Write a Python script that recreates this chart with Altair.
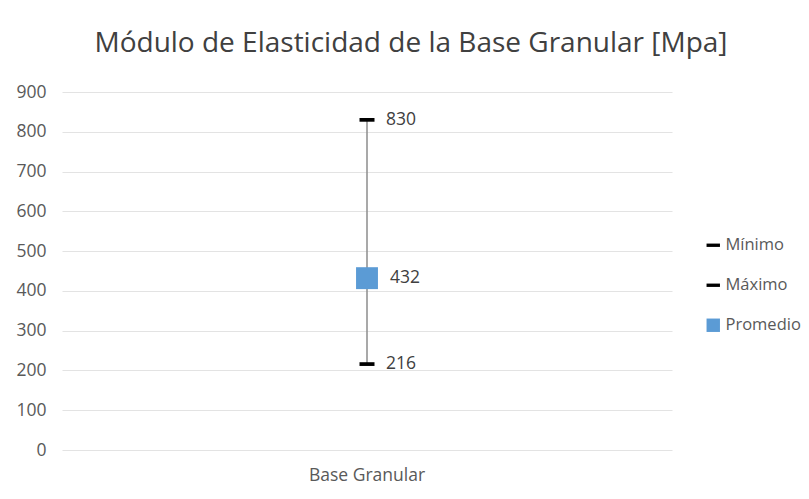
import altair as alt
import pandas as pd

category = ["Base Granular"]
series = ["Mínimo", "Máximo", "Promedio"]
values = [216, 830, 432]

df = pd.DataFrame({"cat": category * 3, "serie": series, "valor": values})
rng = pd.DataFrame({"cat": category, "lo": [values[0]], "hi": [values[1]]})

FONT = "Open Sans"
dash = "M-1,-0.25L1,-0.25L1,0.25L-1,0.25Z"
color_scale = alt.Scale(domain=series, range=["#000000", "#000000", "#5B9BD5"])
shape_scale = alt.Scale(domain=series, range=[dash, dash, "square"])

x_enc = alt.X("cat:N", title=None,
              axis=alt.Axis(labelAngle=0, labelFontSize=17.5, labelColor="#595959",
                            labelPadding=16, domain=False, ticks=False, grid=False,
                            labelFont=FONT))
y_scale = alt.Scale(domain=[0, 900])
y_axis = alt.Axis(values=list(range(0, 901, 100)), labelFontSize=17.5, labelColor="#595959",
                  labelPadding=16, domain=False, ticks=False, gridColor="#e3e3e3",
                  gridWidth=1, labelFont=FONT, labelOverlap=False)

legend = alt.Legend(title=None, orient="none", legendX=643, legendY=145,
                    labelFontSize=16.5, labelColor="#595959", labelFont=FONT,
                    symbolSize=180, rowPadding=23, symbolStrokeWidth=0,
                    labelOffset=4)

base = alt.Chart(df)

rule = alt.Chart(rng).mark_rule(color="#8c8c8c", strokeWidth=1.5).encode(
    x=x_enc,
    y=alt.Y("lo:Q", scale=y_scale, axis=y_axis, title=None),
    y2="hi:Q",
)

dashes = base.transform_filter(alt.datum.serie != "Promedio").mark_point(
    filled=True, size=225, opacity=1).encode(
    x=x_enc,
    y=alt.Y("valor:Q", scale=y_scale, axis=y_axis, title=None),
    color=alt.Color("serie:N", scale=color_scale, legend=legend, sort=series),
    shape=alt.Shape("serie:N", scale=shape_scale, legend=legend, sort=series),
)

square = base.transform_filter(alt.datum.serie == "Promedio").mark_point(
    filled=True, size=480, opacity=1).encode(
    x=x_enc,
    y=alt.Y("valor:Q", scale=y_scale, axis=y_axis, title=None),
    color=alt.Color("serie:N", scale=color_scale, legend=legend, sort=series),
    shape=alt.Shape("serie:N", scale=shape_scale, legend=legend, sort=series),
)

labels_ends = base.transform_filter(alt.datum.serie != "Promedio").mark_text(
    align="left", baseline="middle", dx=19, fontSize=17.5, color="#404040",
    font=FONT).encode(
    x=x_enc,
    y=alt.Y("valor:Q", scale=y_scale, axis=y_axis, title=None),
    text="valor:Q",
)
labels_mid = base.transform_filter(alt.datum.serie == "Promedio").mark_text(
    align="left", baseline="middle", dx=23, fontSize=17.5, color="#404040",
    font=FONT).encode(
    x=x_enc,
    y=alt.Y("valor:Q", scale=y_scale, axis=y_axis, title=None),
    text="valor:Q",
)

chart = alt.layer(rule, dashes, square, labels_ends, labels_mid).properties(
    width=610, height=358,
    autosize=alt.AutoSizeParams(type="none"),
    padding={"left": 54, "top": 84, "right": 129, "bottom": 41},
    title=alt.TitleParams("Módulo de Elasticidad de la Base Granular [Mpa]",
                          fontSize=28, fontWeight="normal", color="#404040",
                          font=FONT, anchor="middle", offset=25, dx=44),
).configure(font=FONT).configure_view(stroke=None).configure_scale(
    bandPaddingInner=0.2)

chart.save("out.html", embed_options={"renderer": "svg", "actions": False})
